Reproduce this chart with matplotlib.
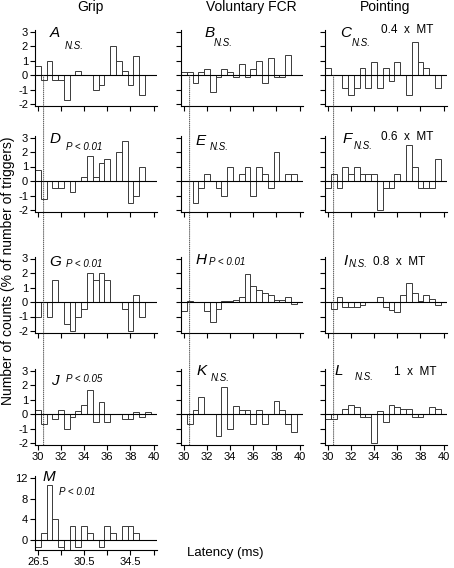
import numpy as np
import matplotlib
matplotlib.use("Agg")
import matplotlib.pyplot as plt
from matplotlib.patches import ConnectionPatch

plt.rcParams['font.family'] = ['Liberation Sans', 'DejaVu Sans']
plt.rcParams['axes.unicode_minus'] = False

# bin centres (ms), 0.5 ms bins
latency = np.arange(30.0, 40.0, 0.5)
latency_m = np.arange(26.5, 36.5, 0.5)

# % of number of triggers
A = [0.67, -0.33, 1.0, -0.33, -0.33, -1.67, 0, 0.33, 0, 0, -1.0, -0.67, 0, 2.0, 1.0, 0.33, -0.67, 1.33, -1.33, 0]
B = [0.25, 0.25, -0.5, 0.25, 0.4, -1.15, -0.15, 0.4, 0.25, -0.15, 0.8, -0.15, 0.4, 1.0, -0.5, 1.2, -0.15, -0.15, 1.4, 0]
C = [0.5, 0, 0, -0.9, -1.35, -0.9, 0.5, -0.9, 0.95, -0.9, 0.5, -0.4, 0.9, 0, -1.35, 2.3, 0.9, 0.5, 0, -0.9]
D = [0.75, -1.25, 0, -0.5, -0.5, 0, -0.75, 0, 0.25, 1.75, 0.25, 1.25, 1.5, 0, 2.0, 2.75, -1.5, -1.0, 1.0, 0]
E = [0, 0, -1.5, -0.5, 0.5, 0, -0.5, -1.0, 1.0, 0, 0.5, 1.0, -1.0, 1.0, 0.5, -0.5, 2.0, 0, 0.5, 0.5]
F = [-0.5, 0.5, -0.5, 1.0, 0.5, 1.0, 0.5, 0.5, 0.5, -2.0, -0.5, -0.5, 0.5, 0, 2.5, 1.0, -0.5, -0.5, -0.5, 1.5]
G = [-1.0, 0, -1.0, 1.5, 0, -1.5, -2.0, -1.0, -0.5, 2.0, 1.5, 2.0, 1.5, 0, 0, -0.5, -2.0, 0.5, -1.0, 0]
H = [-0.65, 0.1, 0, 0, -0.65, -1.35, -0.5, 0.1, 0.1, 0.15, 0.35, 1.95, 1.1, 0.8, 0.6, 0.45, 0.15, 0.15, 0.35, -0.15]
I = [0, -0.5, 0.35, -0.35, -0.35, -0.35, -0.2, 0, 0, 0.35, -0.35, -0.55, -0.7, 0.5, 1.3, 0.65, 0.1, 0.45, 0.2, -0.2]
J = [0.33, -0.67, 0, -0.33, 0.33, -1.0, -0.2, 0.2, 0.67, 1.65, -0.5, 0.85, -0.5, 0, 0, -0.33, -0.33, 0.17, -0.17, 0.17]
K = [0, -0.65, 0.3, 1.2, 0, 0, -1.5, 1.85, -1.0, 0.6, 0.3, 0.3, -0.65, 0.3, -0.65, 0, 0.95, 0.3, -0.65, -1.25]
L = [-0.35, -0.35, 0, 0.35, 0.65, 0.5, -0.2, -0.2, -2.0, 0.2, -0.5, 0.65, 0.5, 0.35, 0.35, -0.2, -0.2, 0, 0.5, 0.35]
M = [-1.33, 1.33, 10.67, 4.0, -1.33, -2.0, 2.67, -1.33, 2.67, 1.33, 0, -1.33, 2.67, 1.33, 0, 2.67, 2.67, 1.33, 0, 0]

grid = [[A, B, C], [D, E, F], [G, H, I], [J, K, L]]
letters = [["A", "B", "C"], ["D", "E", "F"], ["G", "H", "I"], ["J", "K", "L"]]
stats = [["N.S.", "N.S.", "N.S."], ["P < 0.01", "N.S.", "N.S."],
         ["P < 0.01", "P < 0.01", "N.S."], ["P < 0.05", "N.S.", "N.S."]]
intensity = ["0.4  x  MT", "0.6  x  MT", "0.8  x  MT", "1  x  MT"]
col_titles = ["Grip", "Voluntary FCR", "Pointing"]

# label positions (data coords): letter x, letter y, stat x, stat y
letter_pos = [[(31.0, 2.66, 32.35, 1.83), (31.8, 2.66, 32.6, 1.99), (31.05, 2.66, 32.05, 1.99)],
              [(31.0, 2.6, 32.4, 2.13), (31.0, 2.48, 32.25, 2.14), (31.3, 2.64, 32.2, 2.19)],
              [(31.0, 2.5, 32.4, 2.44), (31.0, 2.6, 32.2, 2.55), (31.3, 2.55, 31.8, 2.44)],
              [(31.1, 2.0, 32.4, 2.25), (31.1, 2.7, 32.3, 2.28), (30.6, 2.7, 32.3, 2.4)]]
mt_pos = [(34.6, 2.9), (34.6, 2.83), (33.9, 2.55), (35.7, 2.7)]

W, Hpx = 454, 568
fig = plt.figure(figsize=(W / 100, Hpx / 100), dpi=100)

col_left = [35, 181, 325]
ax_w = 122
zeros = [75.3, 181, 302, 414.3]
ppu = 14.5
ylo, yhi = -2.14, 3.12
edge = '#3a3a3a'


def make_ax(left, top, w, h):
    return fig.add_axes([left / W, 1 - (top + h) / Hpx, w / W, h / Hpx])


def style(ax):
    for s in ['top', 'right']:
        ax.spines[s].set_visible(False)
    for s in ['left', 'bottom']:
        ax.spines[s].set_linewidth(0.8)
    ax.tick_params(direction='out', length=3.5, width=0.8, labelsize=8, pad=1.5)


axes = []
for r in range(4):
    row = []
    for c in range(3):
        top = zeros[r] - yhi * ppu
        ax = make_ax(col_left[c], top, ax_w, (yhi - ylo) * ppu)
        style(ax)
        ax.bar(latency, grid[r][c], width=0.5, fill=False, edgecolor=edge, linewidth=0.7)
        ax.axhline(0, color='black', linewidth=0.8)
        ax.set_xlim(29.75, 40.3)
        ax.set_ylim(ylo, yhi)
        ax.set_xticks(np.arange(30, 41, 2))
        ax.set_yticks(np.arange(-2, 4, 1))
        if c > 0:
            ax.set_yticklabels([])
        if r < 3:
            ax.set_xticklabels([])
        lx, ly, sx, sy = letter_pos[r][c]
        ax.text(lx, ly, letters[r][c], fontsize=11, style='italic')
        ax.text(sx, sy, stats[r][c], fontsize=7, style='italic')
        if c == 2:
            ax.text(mt_pos[r][0], mt_pos[r][1], intensity[r], fontsize=8.5)
        row.append(ax)
    axes.append(row)

# panel M
axm = make_ax(35, 476.3, ax_w, 74)
style(axm)
axm.bar(latency_m, M, width=0.5, fill=False, edgecolor=edge, linewidth=0.7)
axm.axhline(0, color='black', linewidth=0.8)
axm.set_xlim(26.25, 36.8)
axm.set_ylim(-2.0, 12.4)
axm.set_yticks([0, 4, 8, 12])
axm.set_xticks(np.arange(26.5, 37, 2))
axm.set_xticklabels(["26.5", "", "30.5", "", "34.5", ""])
axm.text(26.9, 11.5, "M", fontsize=11, style='italic')
axm.text(28.35, 8.75, "P < 0.01", fontsize=7, style='italic')

# dotted reference line through each column
for c in range(3):
    con = ConnectionPatch(xyA=(30.5, 0), coordsA=axes[0][c].transData,
                          xyB=(30.5, ylo), coordsB=axes[3][c].transData,
                          linestyle=(0, (1, 1.5)), linewidth=0.6, color='#333333')
    fig.add_artist(con)

for x, t in zip([90, 251.5, 385.5], col_titles):
    fig.text(x / W, 1 - 11.5 / Hpx, t, fontsize=10, ha='center', va='baseline')

fig.text(8 / W, 1 - 271 / Hpx, "Number of counts (% of number of triggers)",
         fontsize=10, rotation=90, ha='center', va='center')
fig.text(225 / W, 1 - 553 / Hpx, "Latency (ms)", fontsize=9.5, ha='center', va='center')

fig.savefig("out.png", dpi=100)
